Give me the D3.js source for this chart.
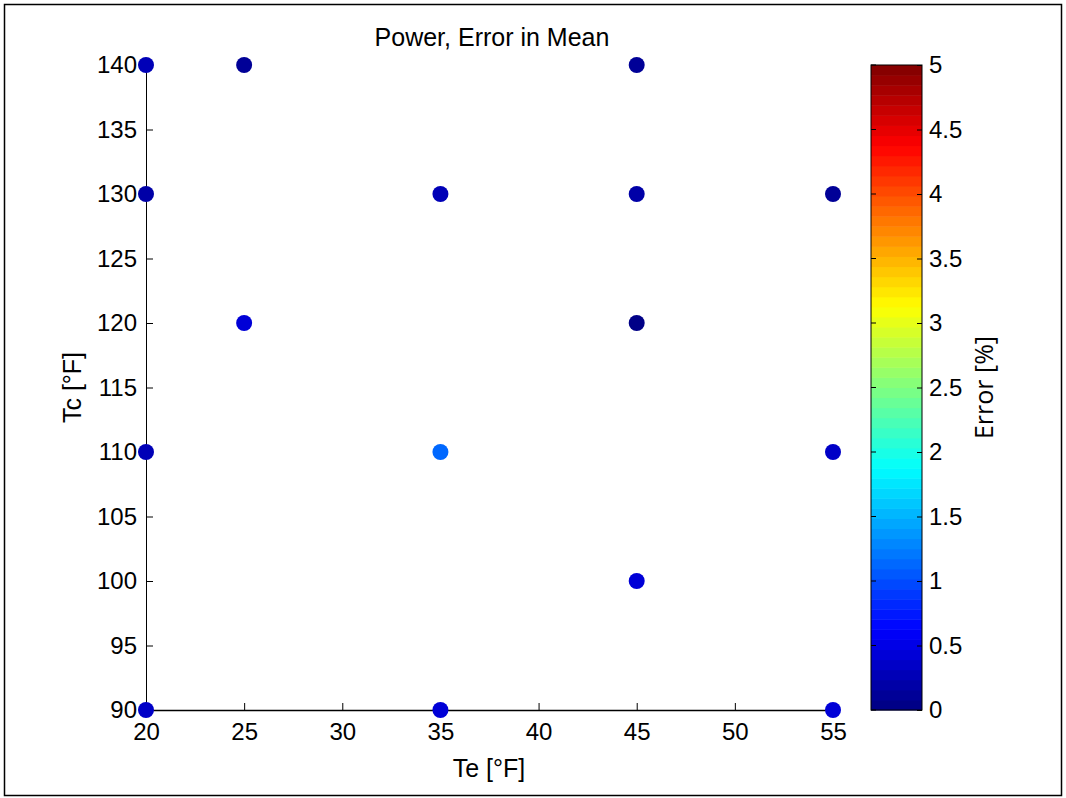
<!DOCTYPE html>
<html>
<head>
<meta charset="utf-8">
<script src="https://cdn.jsdelivr.net/npm/d3@7"></script>
<style>
  body { margin: 0; background: #fff; }
  svg text { font-family: "Liberation Sans", Arial, sans-serif; fill: #000; }
</style>
</head>
<body>
<div id="chart"></div>
<script>
// Data
const te = [20, 25, 45, 20, 35, 45, 55, 25, 45, 20, 35, 55, 45, 20, 35, 55];
const tc = [140, 140, 140, 130, 130, 130, 130, 120, 120, 110, 110, 110, 100, 90, 90, 90];
const errPct = [0.25, 0.1, 0.15, 0.2, 0.3, 0.2, 0.12, 0.45, 0.03, 0.25, 1.12, 0.35, 0.4, 0.35, 0.45, 0.4];

const xTicks = [20, 25, 30, 35, 40, 45, 50, 55];
const yTicks = [90, 95, 100, 105, 110, 115, 120, 125, 130, 135, 140];
const cTicks = [0, 0.5, 1, 1.5, 2, 2.5, 3, 3.5, 4, 4.5, 5];

const svgWidth = 1066, svgHeight = 798;
const marginLeft = 146, marginTop = 65;
const width = 687, height = 645;
const fontStack = "'Liberation Sans', Arial, sans-serif";

// MATLAB jet colormap, 64 steps
function jet(t) {
  const c = (x) => Math.max(0, Math.min(1, x));
  const r = c(1.5 - Math.abs(4 * t - 3));
  const g = c(1.5 - Math.abs(4 * t - 2));
  const b = c(1.5 - Math.abs(4 * t - 1));
  return d3.rgb(r * 255, g * 255, b * 255).formatHex();
}
const nColors = 64;
const colorScale = (v) => {
  const i = Math.min(nColors - 1, Math.floor((v / 5) * nColors));
  return jet((i + 0.5) / nColors);
};

const svg = d3.select("#chart").append("svg")
  .attr("width", svgWidth).attr("height", svgHeight);

// outer frame
svg.append("rect")
  .attr("x", 4.5).attr("y", 4.5)
  .attr("width", 1057).attr("height", 791)
  .attr("fill", "none").attr("stroke", "#000").attr("stroke-width", 1.5);

const xScale = d3.scaleLinear().domain([20, 55]).range([0, width]);
const yScale = d3.scaleLinear().domain([90, 140]).range([height, 0]);

const chart = svg.append("g")
  .attr("transform", `translate(${marginLeft},${marginTop})`);

// Axes
const xAxis = chart.append("g")
  .attr("transform", `translate(0,${height})`)
  .call(d3.axisBottom(xScale).tickValues(xTicks).tickSizeInner(-7).tickSizeOuter(0).tickPadding(13));
xAxis.select(".domain").attr("stroke-width", 1.5);
xAxis.selectAll(".tick text").attr("font-size", 24).style("font-family", fontStack);

const yAxis = chart.append("g")
  .call(d3.axisLeft(yScale).tickValues(yTicks).tickSizeInner(-7).tickSizeOuter(0).tickPadding(9));
yAxis.selectAll(".tick text").attr("font-size", 24).style("font-family", fontStack);

// Points
chart.append("g")
  .selectAll("circle")
  .data(te.map((d, i) => ({ x: d, y: tc[i], e: errPct[i] })))
  .join("circle")
  .attr("cx", (d) => xScale(d.x))
  .attr("cy", (d) => yScale(d.y))
  .attr("r", 8)
  .attr("fill", (d) => colorScale(d.e));

// Title
svg.append("text")
  .attr("x", 492).attr("y", 46)
  .attr("text-anchor", "middle")
  .attr("font-size", 25)
  .text("Power, Error in Mean");

// Axis labels
svg.append("text")
  .attr("x", 489).attr("y", 777)
  .attr("text-anchor", "middle")
  .attr("font-size", 25)
  .text("Te [°F]");

svg.append("text")
  .attr("transform", `translate(81,${marginTop + height / 2}) rotate(-90)`)
  .attr("text-anchor", "middle")
  .attr("font-size", 25)
  .text("Tc [°F]");

// Colorbar
const cbX = 871, cbW = 51;
const cScale = d3.scaleLinear().domain([0, 5]).range([marginTop + height, marginTop]);
const cb = svg.append("g");
cb.selectAll("rect")
  .data(d3.range(nColors))
  .join("rect")
  .attr("x", cbX)
  .attr("y", (i) => cScale((i + 1) * 5 / nColors))
  .attr("width", cbW)
  .attr("height", (i) => cScale(i * 5 / nColors) - cScale((i + 1) * 5 / nColors) + 0.5)
  .attr("fill", (i) => jet((i + 0.5) / nColors));
cb.append("rect")
  .attr("x", cbX).attr("y", marginTop)
  .attr("width", cbW).attr("height", height)
  .attr("fill", "none").attr("stroke", "#000").attr("stroke-width", 1);

const cAxis = cb.append("g")
  .attr("transform", `translate(${cbX + cbW},0)`)
  .call(d3.axisRight(cScale).tickValues(cTicks).tickFormat(d3.format("")).tickSizeInner(-5).tickSizeOuter(0).tickPadding(7));
cAxis.select(".domain").remove();
cAxis.selectAll(".tick text").attr("font-size", 24).style("font-family", fontStack);
cb.append("g").selectAll("line")
  .data(cTicks)
  .join("line")
  .attr("x1", cbX).attr("x2", cbX + 5)
  .attr("y1", (d) => cScale(d)).attr("y2", (d) => cScale(d))
  .attr("stroke", "#000");

svg.append("text")
  .attr("transform", `translate(993,${marginTop + height / 2}) rotate(-90)`)
  .attr("text-anchor", "middle")
  .attr("font-size", 25)
  .style("font-family", "'Open Sans', sans-serif")
  .text("Error [%]");
</script>
</body>
</html>
